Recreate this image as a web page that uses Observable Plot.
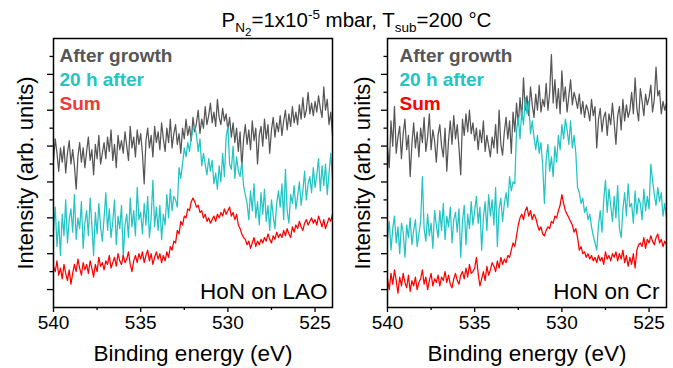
<!DOCTYPE html>
<html><head><meta charset="utf-8">
<script src="https://cdn.jsdelivr.net/npm/d3@7"></script>
<script src="https://cdn.jsdelivr.net/npm/@observablehq/plot@0.6"></script>
<style>
body{margin:0;background:#fff;font-family:"Liberation Sans",Arial,sans-serif;}
#wrap{width:673px;height:368px;position:relative;overflow:hidden;background:#fff}
#title{height:30px;box-sizing:border-box;padding-top:9px;padding-left:40px;text-align:center;font-size:20.5px;line-height:22px;color:#000;white-space:nowrap;position:relative;z-index:1}
#title sub,#title sup{font-size:13.5px;line-height:0}
#title sub sub{font-size:11.5px}
#row{display:flex}
#row svg{display:block}
</style></head><body>
<div id="wrap">
<div id="title">P<sub>N<sub>2</sub></sub>=1x10<sup>-5</sup> mbar, T<sub>sub</sub>=200 °C</div>
<div id="row"></div>
</div>
<script>
// Energy grid (eV): 540.0 down to 524.0, step 0.1
const energyStart = 540, energyStep = 0.1, energyCount = 161;

// HoN on LAO
const laoAfterGrowth = [
8.2,9.4,8.6,7.6,8.9,8.1,9.0,7.5,8.6,9.3,
8.0,8.8,7.9,6.6,8.4,9.2,8.1,8.9,7.8,8.7,
9.5,8.2,8.8,7.4,9.1,8.3,9.6,8.0,8.6,9.2,
8.3,9.5,8.7,9.9,8.2,9.1,7.8,9.6,8.8,9.3,
8.6,9.8,9.0,8.2,10.1,8.9,9.5,8.4,9.9,9.1,
9.7,8.6,6.9,9.3,10.0,8.9,9.6,8.4,10.1,9.2,
9.8,8.8,10.3,9.4,8.7,10.0,9.2,10.5,8.9,9.7,
10.2,9.1,9.7,8.6,10.0,9.4,10.5,9.6,10.1,9.3,
10.6,9.8,10.3,11.0,9.7,10.5,10.0,11.2,10.2,10.7,
11.4,10.3,10.9,10.1,11.6,10.6,10.2,11.1,10.4,10.8,
9.9,10.6,9.5,10.3,9.2,10.0,8.7,9.8,7.8,9.4,
10.2,9.1,9.9,8.8,10.4,9.3,10.0,8.0,9.6,10.1,
9.0,10.5,9.4,10.2,8.6,9.9,10.6,9.5,10.3,9.8,
10.7,9.6,10.4,11.0,9.9,10.8,10.1,11.2,10.3,10.9,
10.2,11.3,10.5,11.7,10.6,11.0,12.0,10.8,11.4,10.7,
11.5,10.9,11.8,11.1,10.6,12.3,11.0,11.6,10.2,10.9,
9.6];
const lao20hAfter = [
4.3,5.6,3.4,4.8,2.9,5.2,4.0,6.0,3.6,4.9,
5.5,4.2,6.3,3.8,5.0,4.4,5.9,3.3,4.7,5.4,
4.0,6.1,4.6,2.9,5.3,4.1,5.8,4.5,3.7,5.0,
6.4,4.3,5.5,3.9,4.8,6.0,3.5,5.1,4.4,5.7,
2.8,4.6,5.2,3.9,6.1,4.5,5.4,4.0,6.7,4.9,
5.3,4.1,5.8,4.6,6.2,3.9,5.0,7.1,4.5,5.6,
4.3,5.7,3.8,5.2,4.6,6.3,5.0,6.6,5.4,6.2,
6.0,5.6,7.8,7.2,8.0,8.9,8.4,9.2,8.7,9.5,
9.9,10.1,9.6,8.7,9.4,7.9,8.6,8.0,7.4,8.3,
7.6,8.2,6.9,7.5,6.6,7.9,7.0,8.6,7.3,9.5,
10.1,8.0,7.7,9.0,7.2,8.4,7.6,7.3,8.1,6.8,
6.3,5.8,4.9,6.5,5.4,6.9,5.0,5.9,4.6,6.4,
5.2,6.6,4.8,5.7,4.3,6.0,5.1,4.4,5.8,6.5,
5.6,6.9,4.9,7.7,5.4,4.7,6.3,5.8,6.8,5.5,
6.2,7.0,5.7,6.5,7.6,6.0,6.9,7.3,6.4,7.8,
6.7,7.4,8.3,6.5,7.9,6.8,8.0,6.3,7.5,8.6,
7.2];
const laoSum = [
2.3,2.0,2.6,1.8,2.2,1.6,2.4,1.9,1.5,2.1,
1.3,1.9,2.4,2.0,2.7,2.2,1.8,2.5,2.1,2.4,
1.9,2.6,2.2,1.7,2.4,2.0,2.8,2.3,2.5,2.1,
2.6,2.4,2.9,2.2,2.5,2.8,2.3,3.0,2.6,2.4,
2.9,2.5,2.7,3.1,2.4,2.0,2.6,2.9,2.5,3.0,
2.7,3.1,2.5,2.9,3.2,2.6,3.0,2.4,2.8,3.1,
2.7,3.0,2.5,2.9,2.6,3.1,2.8,3.4,3.2,3.7,
3.6,4.3,4.1,4.8,4.6,5.1,5.0,5.5,5.4,5.9,
6.1,5.9,5.6,5.7,5.3,5.4,5.0,5.2,4.8,5.0,
4.7,4.9,5.1,4.8,5.2,5.0,5.3,5.1,5.5,5.2,
5.4,5.6,5.1,5.3,4.9,5.2,4.6,4.4,4.1,3.9,
3.8,3.5,3.7,3.3,3.6,3.9,3.4,3.7,3.5,3.8,
3.6,3.9,3.7,4.1,3.8,3.6,4.0,3.8,4.2,3.9,
4.1,3.9,4.3,4.0,4.4,4.1,3.9,4.5,4.2,4.6,
4.4,4.8,4.5,4.3,4.7,4.9,4.6,4.8,5.0,4.7,
4.9,4.6,5.1,4.8,4.5,4.9,4.4,4.7,5.0,4.8,
5.2];

// HoN on Cr
const crAfterGrowth = [
8.9,7.8,10.4,9.0,11.2,8.6,9.5,10.1,8.3,9.7,
10.5,8.8,9.6,7.3,9.1,10.3,8.9,9.8,8.4,10.0,
9.2,10.6,8.7,9.5,10.8,8.8,9.9,9.3,8.1,9.6,
10.2,9.0,8.4,10.0,7.6,9.3,10.4,9.1,10.7,9.4,
10.2,8.9,7.4,10.5,9.6,10.8,9.8,11.0,9.7,10.3,
9.3,10.0,8.8,9.9,9.2,10.4,8.7,9.6,9.0,8.4,
9.5,8.9,10.2,8.6,11.0,9.1,8.5,9.8,10.6,9.4,
10.4,8.6,10.9,9.8,11.4,10.2,11.7,10.5,12.8,11.0,
11.8,10.7,12.3,11.3,10.6,11.9,11.0,12.4,10.9,11.6,
11.2,12.5,11.0,12.0,14.1,11.4,12.7,11.1,12.2,10.8,
13.2,11.5,12.3,10.9,11.8,12.7,11.3,12.0,11.6,11.1,
11.9,10.8,11.5,10.6,11.3,11.0,10.4,11.6,10.7,11.2,
8.9,10.5,11.1,9.8,10.6,10.9,9.6,10.8,10.2,11.4,
10.3,9.1,10.7,11.2,9.9,11.6,10.4,11.3,10.6,11.0,
12.0,10.8,12.8,11.1,10.4,12.2,11.5,10.7,11.9,11.3,
11.7,12.4,10.9,11.6,13.4,11.8,12.1,10.8,11.5,11.0,
11.4];
const cr20hAfter = [
3.9,4.8,3.2,4.4,5.1,3.6,4.5,3.0,4.7,4.2,
2.8,4.6,3.9,5.0,3.5,4.3,4.9,3.4,4.1,4.8,
7.3,4.4,3.7,5.2,4.0,4.7,3.3,5.4,4.6,3.9,
5.4,4.3,5.8,3.8,5.1,4.5,5.6,3.6,4.9,5.3,
4.2,5.5,2.8,4.8,5.7,3.5,5.2,4.4,5.9,4.6,
5.4,6.2,4.7,5.6,3.2,5.0,5.9,4.3,6.3,5.1,
6.0,4.6,6.7,3.4,5.5,6.1,4.8,5.8,6.4,5.6,
7.3,6.5,7.0,6.9,9.9,10.6,9.4,11.0,10.2,11.7,
10.8,11.5,9.7,10.4,9.5,8.8,9.6,8.6,9.2,7.9,
5.8,8.3,9.1,7.6,8.4,7.3,9.0,8.1,9.6,8.8,
10.2,9.4,10.5,9.9,9.1,10.4,8.9,9.6,8.6,6.7,
6.4,5.8,6.1,5.3,5.6,4.9,5.2,4.5,4.0,3.6,
3.2,4.6,5.4,4.2,6.0,7.1,5.3,6.6,5.7,4.8,
6.2,5.0,6.8,4.4,3.9,5.5,6.4,5.1,6.9,5.6,
5.8,4.7,6.5,5.2,6.1,5.8,4.9,6.6,5.4,6.2,
5.5,8.0,7.1,6.3,5.7,6.7,5.9,6.4,5.1,5.8,
5.0];
const crSum = [
1.6,1.0,1.9,1.3,2.1,1.5,0.8,1.7,1.2,1.9,
1.4,1.1,1.8,0.9,1.5,1.2,1.7,1.0,1.4,1.6,
2.1,1.3,1.7,1.0,1.5,1.9,1.2,1.6,1.4,1.8,
1.2,1.7,1.5,2.0,1.4,1.8,1.3,1.1,1.6,1.9,
1.5,1.3,1.8,2.0,1.6,2.2,1.7,2.4,1.9,2.0,
2.2,2.8,1.9,1.2,1.6,2.0,1.5,2.3,1.8,2.1,
2.5,2.3,2.0,2.6,2.2,2.8,2.4,2.7,2.5,2.9,
2.8,3.2,3.6,3.4,4.0,4.6,5.0,5.2,4.9,5.4,
5.6,5.1,5.4,4.9,5.2,5.0,4.6,4.3,4.5,4.1,
4.0,4.3,4.5,4.4,4.8,4.7,5.1,5.0,5.4,5.7,
6.3,5.8,5.4,5.2,5.0,4.8,4.6,4.2,4.4,3.9,
3.2,3.4,3.0,3.1,2.8,3.0,2.7,2.9,2.6,2.8,
2.5,2.9,2.6,2.8,2.4,3.1,2.7,2.9,2.6,3.0,
2.8,3.1,2.6,3.0,2.7,3.2,2.5,2.9,2.3,2.8,
2.4,3.0,2.2,3.2,3.5,3.6,3.4,3.9,3.3,3.8,
3.6,4.0,3.7,3.5,3.9,4.1,3.6,3.8,3.4,3.7,
3.5];

const seriesNames = ["After growth", "20 h after", "Sum"];
const seriesColors = ["#565656", "#22c4c4", "#ff0000"];
const legendColorsLAO = ["#565656", "#22c4c4", "#f03a3a"];
const panelLabels = ["HoN on LAO", "HoN on Cr"];
const xTitle = "Binding energy (eV)";
const yTitle = "Intensity (arb. units)";
const xTickMajor = [540, 535, 530, 525];
const xTickMinor = [537.5, 532.5, 527.5];
const yTickMajor = [1, 3, 5, 7, 9, 11, 13];
const yTickMinor = [2, 4, 6, 8, 10, 12, 14];

const energies = d3.range(energyCount).map(i => +(energyStart - i * energyStep).toFixed(1));
const FONT = '"Liberation Sans", Arial, sans-serif';

function panel(series, label, opts) {
  const marks = [];
  series.forEach((vals, k) => {
    marks.push(Plot.line(vals, {x: (d, i) => energies[i], y: d => d, stroke: seriesColors[k], strokeWidth: 1.25}));
  });
  marks.push(Plot.frame({stroke: "#000", strokeWidth: 1.5}));
  marks.push(Plot.axisX(xTickMajor, {tickSize: 5, tickPadding: 3, fontSize: 19, strokeWidth: 1.3, label: null, tickFormat: d => String(d)}));
  marks.push(Plot.axisX(xTickMinor, {tickSize: 3, strokeWidth: 1.3, label: null, tickFormat: () => ""}));
  marks.push(Plot.axisY(yTickMajor, {tickSize: 6, strokeWidth: 1.3, label: null, tickFormat: () => ""}));
  marks.push(Plot.axisY(yTickMinor, {tickSize: 3.5, strokeWidth: 1.3, label: null, tickFormat: () => ""}));
  seriesNames.forEach((name, k) => {
    marks.push(Plot.text([name], {frameAnchor: "top-left", dx: opts.legendDx, dy: 9.5 + k * 24, lineAnchor: "top", textAnchor: "start",
      fontSize: 19, fontWeight: "bold", fill: opts.legendColors[k]}));
  });
  marks.push(Plot.text([label], {frameAnchor: "bottom-right", dx: opts.labelDx, dy: -9, lineAnchor: "bottom", textAnchor: "end", fontSize: 22.5, fill: "#000"}));
  marks.push(Plot.text([xTitle], {frameAnchor: "bottom", dy: 53, lineAnchor: "bottom", textAnchor: "middle", fontSize: 22.5, fill: "#000"}));
  marks.push(Plot.text([yTitle], {frameAnchor: "left", dx: opts.yTitleDx, rotate: -90, lineAnchor: "middle", textAnchor: "middle", fontSize: 22, fill: "#000"}));
  return Plot.plot({
    width: opts.width, height: 338,
    marginTop: 8, marginBottom: 61, marginLeft: opts.ml, marginRight: opts.mr,
    style: {fontFamily: FONT, background: "#fff", color: "#000", overflow: "visible"},
    x: {domain: [540, 524], axis: null},
    y: {domain: [0, 15], axis: null},
    marks
  });
}

const row = document.getElementById("row");
row.append(panel([laoAfterGrowth, lao20hAfter, laoSum], panelLabels[0], {width: 336, ml: 53, mr: 4, legendDx: 6, labelDx: -5, yTitleDx: -28, legendColors: legendColorsLAO}));
row.append(panel([crAfterGrowth, cr20hAfter, crSum], panelLabels[1], {width: 337, ml: 51, mr: 7, legendDx: 12, labelDx: -7, yTitleDx: -25, legendColors: seriesColors}));
</script>
</body></html>
